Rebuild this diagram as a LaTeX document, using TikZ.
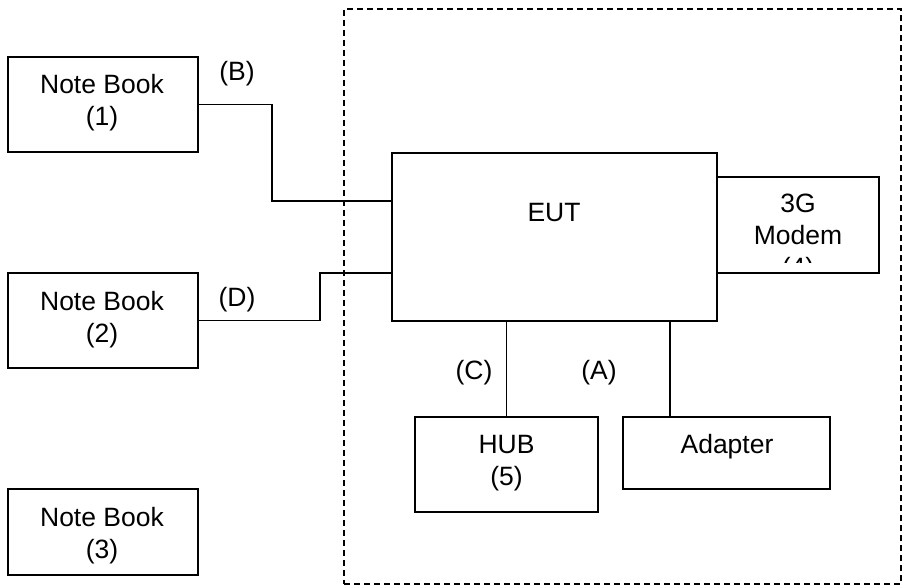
\documentclass[tikz,border=0pt]{standalone}
\usepackage{fontspec}
\setmainfont{Liberation Sans}
\begin{document}
\begin{tikzpicture}[x=1pt,y=-1pt,
  box/.style={draw, line width=1.8pt, rectangle, inner sep=0pt},
  frame/.style={draw, line width=1.8pt, rectangle, inner sep=0pt, dash pattern=on 6pt off 4pt},
  conn/.style={draw, line width=1.6pt},
  txt/.style={font=\fontsize{26.5}{32}\selectfont, align=center, inner sep=0pt}]
\useasboundingbox (0,0) rectangle (921,586);
% outer dashed frame
\node[frame, minimum width=557pt, minimum height=575pt] (frm) at (622.5,296.5) {};
% boxes
\node[box, minimum width=190pt, minimum height=95pt] (nb1) at (103,104.5) {};
\node[box, minimum width=190pt, minimum height=95pt] (nb2) at (103,320.5) {};
\node[box, minimum width=190pt, minimum height=86pt] (nb3) at (103,532) {};
\node[box, minimum width=325pt, minimum height=168pt] (eut) at (554.5,237) {};
\node[box, minimum width=162pt, minimum height=96pt] (modem) at (798,225) {};
\node[box, minimum width=183pt, minimum height=95pt] (hub) at (506.5,464.5) {};
\node[box, minimum width=207pt, minimum height=72pt] (adp) at (726.5,453) {};
% texts
\node[txt] (nb1t) at (102,102.5) {Note Book\\(1)};
\node[txt] (nb2t) at (102,319.5) {Note Book\\(2)};
\node[txt] (nb3t) at (102,535.5) {Note Book\\(3)};
\node[txt, anchor=base] (eutt) at (554,221) {EUT};
\node[txt, anchor=base] (adpt) at (727,453) {Adapter};
\node[txt] (hubt) at (506.5,463.5) {HUB\\(5)};
\begin{scope}
  \clip (717,177) rectangle (879,262);
  \node[txt] (modemt) at (798,238) {3G\\Modem\\(4)};
\end{scope}
% labels
\node[txt, anchor=base] (lb) at (237,81) {(B)};
\node[txt, anchor=base] (ld) at (237,306) {(D)};
\node[txt, anchor=base] (lc) at (474,379.5) {(C)};
\node[txt, anchor=base] (la) at (599,379.5) {(A)};
% connectors
\coordinate (bt) at (272,201);
\coordinate (dt) at (320,273);
\coordinate (at) at (670,417);
\draw[conn] (nb1.east) -| (bt) -- (bt -| eut.west);
\draw[conn] (nb2.east) -| (dt) -- (dt -| eut.west);
\draw[conn] (hub.north) -- (hub.north |- eut.south);
\draw[conn] (at) -- (at |- eut.south);
\end{tikzpicture}
\end{document}
